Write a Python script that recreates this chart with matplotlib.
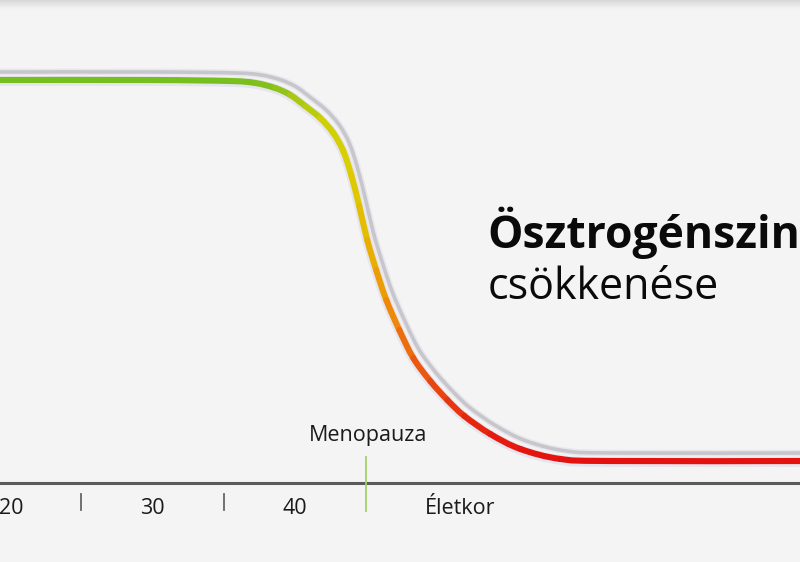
import numpy as np
import matplotlib
matplotlib.use("Agg")
import matplotlib.pyplot as plt
from matplotlib.colors import LinearSegmentedColormap
from matplotlib.path import Path
from matplotlib.patches import PathPatch
from matplotlib import transforms

plt.rcParams['font.family'] = ['Open Sans', 'DejaVu Sans']

# curve: age (years) vs. estrogen level (% of max)
age = [18.8, 29.8, 35.4, 37.2, 38.6, 39.65, 40.7, 41.75, 42.67, 43.37, 43.93, 44.49,
       45.05, 45.68, 46.39, 47.3, 48.28, 49.47, 50.67, 51.86, 53.68, 55.79, 58.6,
       62.11, 75.9]
level = [100.0, 100.0, 99.75, 99.26, 98.0, 96.3, 93.55, 90.57, 86.85, 82.38, 76.43,
         68.73, 60.3, 52.85, 45.41, 37.97, 31.02, 25.31, 20.6, 16.63, 12.16, 8.44,
         5.96, 5.46, 5.46]

tick_labels = ['20', '30', '40']
minor_ticks = [25, 35]
menopause_age = 45
x_title = 'Életkor'
title_bold = 'Ösztrogénszint'
title_rest = 'csökkenése'

fig = plt.figure(figsize=(8, 5.62), dpi=100)
fig.patch.set_facecolor('#f4f4f4')
ax = fig.add_axes([0, 0, 1, 1])
ax.set_facecolor('#f4f4f4')
ax.set_xlim(19.3, 75.4)
ax.set_ylim(-19.6, 119.85)
ax.axis('off')

# gray band at the top edge
grad = np.linspace(0, 1, 50).reshape(-1, 1)
band = LinearSegmentedColormap.from_list('band', ['#d4d4d4', '#f4f4f4'])
ax.imshow(grad, cmap=band, aspect='auto', extent=[19.3, 75.4, 117.6, 119.85],
          origin='upper', zorder=0)

P = np.column_stack([age, level])
n = len(P)


def bezier_parts(i):
    # Catmull-Rom tangents turned into cubic bezier handles
    p0 = P[max(i - 1, 0)]
    p1, p2 = P[i], P[i + 1]
    p3 = P[min(i + 2, n - 1)]
    return p1 + (p2 - p0) / 6, p2 - (p3 - p1) / 6, p2


verts = [P[0]]
codes = [Path.MOVETO]
for i in range(n - 1):
    verts += list(bezier_parts(i))
    codes += [Path.CURVE4] * 3
full = Path(np.array(verts), codes)

# light gray shadow line, shifted up and to the right
shadow = transforms.offset_copy(ax.transData, fig=fig, x=6, y=8, units='dots')
ax.add_patch(PathPatch(full, fc='none', ec='#e8e8ec', lw=4.8, capstyle='round',
                       transform=shadow, zorder=2))
ax.add_patch(PathPatch(full, fc='none', ec='#c6c6cc', lw=2.6, capstyle='round',
                       transform=shadow, zorder=2))
# faint halo under the coloured line
halo = transforms.offset_copy(ax.transData, fig=fig, x=0, y=-1, units='dots')
ax.add_patch(PathPatch(full, fc='none', ec='#e6e4ee', lw=7, capstyle='round',
                       transform=halo, zorder=2))

# coloured line, green -> yellow -> red by level
cmap = LinearSegmentedColormap.from_list('est', [
    (0.0, '#e3120e'), (0.08, '#e6200f'), (0.2, '#ea4a10'), (0.4, '#ef8d08'),
    (0.58, '#e6b800'), (0.75, '#dccd00'), (0.88, '#d0cf06'), (0.95, '#a8c814'),
    (1.0, '#76bf1e')])
for i in range(n - 1):
    c1, c2, p2 = bezier_parts(i)
    seg = Path(np.array([P[i], c1, c2, p2]),
               [Path.MOVETO, Path.CURVE4, Path.CURVE4, Path.CURVE4])
    mid = (level[i] + level[i + 1]) / 2
    ax.add_patch(PathPatch(seg, fc='none', ec=cmap((mid - 5.5) / 94.5), lw=4.4,
                           capstyle='round', zorder=3))

# x axis
ax.axhline(0, color='#5a5a5a', lw=2.2, zorder=1)
for t in minor_ticks:
    ax.plot([t, t], [-2.7, -6.7], color='#666666', lw=1.3, zorder=1)
ax.plot([menopause_age, menopause_age], [6.5, -7.0], color='#a3cf6a', lw=1.3, zorder=1)

for i, lab in enumerate(tick_labels):
    ax.text(20 + 10 * i + (0.1 if i == 0 else 0), -6.4, lab, fontsize=15.5,
            color='#1a1a1a', ha='center', va='center')
ax.text(51.6, -6.4, x_title, fontsize=15.5, color='#1a1a1a', ha='center', va='center')
ax.text(menopause_age + 0.1, 11.8, 'Menopauza', fontsize=15.5, color='#1a1a1a',
        ha='center', va='center')

ax.text(53.5, 58.3, title_bold, fontsize=32, fontweight='bold', color='#0a0a0a',
        ha='left', va='baseline')
ax.text(53.5, 45.7, title_rest, fontsize=31, color='#0a0a0a',
        ha='left', va='baseline')

fig.savefig('out.png', dpi=100, facecolor=fig.get_facecolor())
